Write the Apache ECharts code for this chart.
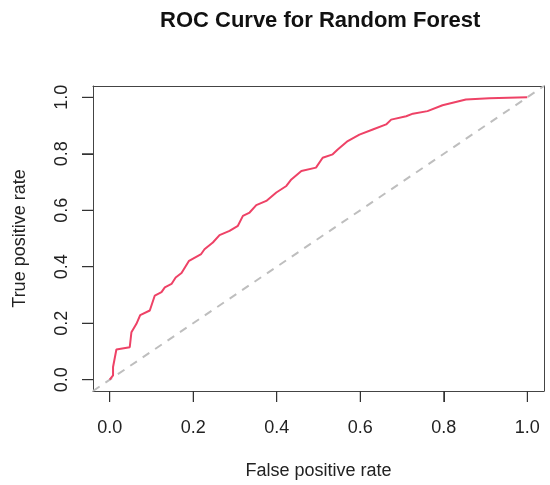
<!DOCTYPE html>
<html>
<head>
<meta charset="utf-8">
<script src="https://cdn.jsdelivr.net/npm/echarts@6/dist/echarts.min.js"></script>
<style>
  html, body { margin: 0; padding: 0; background: #fff; }
  #chart { width: 550px; height: 485px; }
</style>
</head>
<body>
<div id="chart"></div>
<script>
// ROC curve points
const fpr = [0, 0.008, 0.008, 0.016, 0.048, 0.052, 0.064, 0.073, 0.096, 0.108, 0.124, 0.132, 0.148, 0.158, 0.172,
  0.19, 0.219, 0.227, 0.247, 0.263, 0.287, 0.307, 0.319, 0.335, 0.351, 0.375, 0.399, 0.423, 0.435, 0.459,
  0.494, 0.51, 0.534, 0.546, 0.57, 0.598, 0.63, 0.662, 0.674, 0.71, 0.726, 0.761, 0.797, 0.853, 0.909, 1.0];
const tpr = [0, 0.015, 0.045, 0.107, 0.115, 0.168, 0.198, 0.229, 0.245, 0.298, 0.31, 0.327, 0.339, 0.362, 0.378,
  0.421, 0.445, 0.462, 0.486, 0.512, 0.527, 0.545, 0.58, 0.592, 0.618, 0.633, 0.663, 0.686, 0.709, 0.739,
  0.751, 0.786, 0.798, 0.815, 0.845, 0.868, 0.886, 0.904, 0.921, 0.933, 0.942, 0.951, 0.972, 0.992, 0.997, 1.0];
// abline(0, 1) runs corner to corner of the box
const diagX = [-0.04, 1.04];
const diagY = [-0.04, 1.04];
const ticks = [0, 0.2, 0.4, 0.6, 0.8, 1.0];

const font = 'Liberation Sans, Arial, Helvetica, sans-serif';

let myChart = echarts.init(document.getElementById('chart'));

// R pads the box 4% past the data range
const pad = 0.04;
const tickLen = 11;

function mainAxis(name, gap, margin, rotate) {
    return {
        type: 'value',
        min: -pad,
        max: 1 + pad,
        name: name,
        nameLocation: 'middle',
        nameGap: gap,
        nameTextStyle: { fontFamily: font, fontSize: 18, color: '#222' },
        splitLine: { show: false },
        axisLine: { show: true, onZero: false, lineStyle: { color: '#444' } },
        axisTick: { show: true, length: tickLen, customValues: ticks, lineStyle: { color: '#333' } },
        axisLabel: { customValues: ticks, formatter: v => v.toFixed(1), margin: margin, rotate: rotate,
            fontFamily: font, fontSize: 18, color: '#222' }
    };
}

// top and right sides of the box
function edgeAxis(position) {
    return {
        type: 'value',
        position: position,
        min: -pad,
        max: 1 + pad,
        splitLine: { show: false },
        axisLine: { show: true, onZero: false, lineStyle: { color: '#444' } },
        axisTick: { show: false },
        axisLabel: { show: false }
    };
}

// outward tick marks, placed through the axes' own scale
function tickSeries(data, horizontal) {
    return {
        type: 'custom',
        clip: false,
        silent: true,
        z: 5,
        data: data,
        renderItem: (params, api) => {
            const p = api.coord([api.value(0), api.value(1)]);
            return {
                type: 'line',
                shape: horizontal
                    ? { x1: p[0], y1: p[1], x2: p[0], y2: p[1] + tickLen }
                    : { x1: p[0], y1: p[1], x2: p[0] - tickLen, y2: p[1] },
                style: { stroke: '#333', lineWidth: 1 }
            };
        }
    };
}

myChart.setOption({
    animation: false,
    title: {
        text: 'ROC Curve for Random Forest',
        left: 155,
        top: 5,
        textStyle: { fontFamily: font, fontSize: 22, fontWeight: 'bold', color: '#111' }
    },
    grid: { left: 93, right: 6, top: 86, bottom: 93 },
    xAxis: [
        mainAxis('False positive rate', 71, 28, 0),
        edgeAxis('top')
    ],
    yAxis: [
        mainAxis('True positive rate', 64, 22, 90),
        edgeAxis('right')
    ],
    series: [
        {
            name: 'chance',
            type: 'line',
            data: diagX.map((x, i) => [x, diagY[i]]),
            symbol: 'none',
            lineStyle: { color: '#BEBEBE', width: 2, type: [8, 7] },
            z: 1
        },
        {
            name: 'Random Forest',
            type: 'line',
            data: fpr.map((x, i) => [x, tpr[i]]),
            symbol: 'none',
            lineStyle: { color: '#EE4266', width: 2 },
            z: 2
        },
        tickSeries(ticks.map(v => [v, -pad]), true),
        tickSeries(ticks.map(v => [-pad, v]), false)
    ]
});
</script>
</body>
</html>
